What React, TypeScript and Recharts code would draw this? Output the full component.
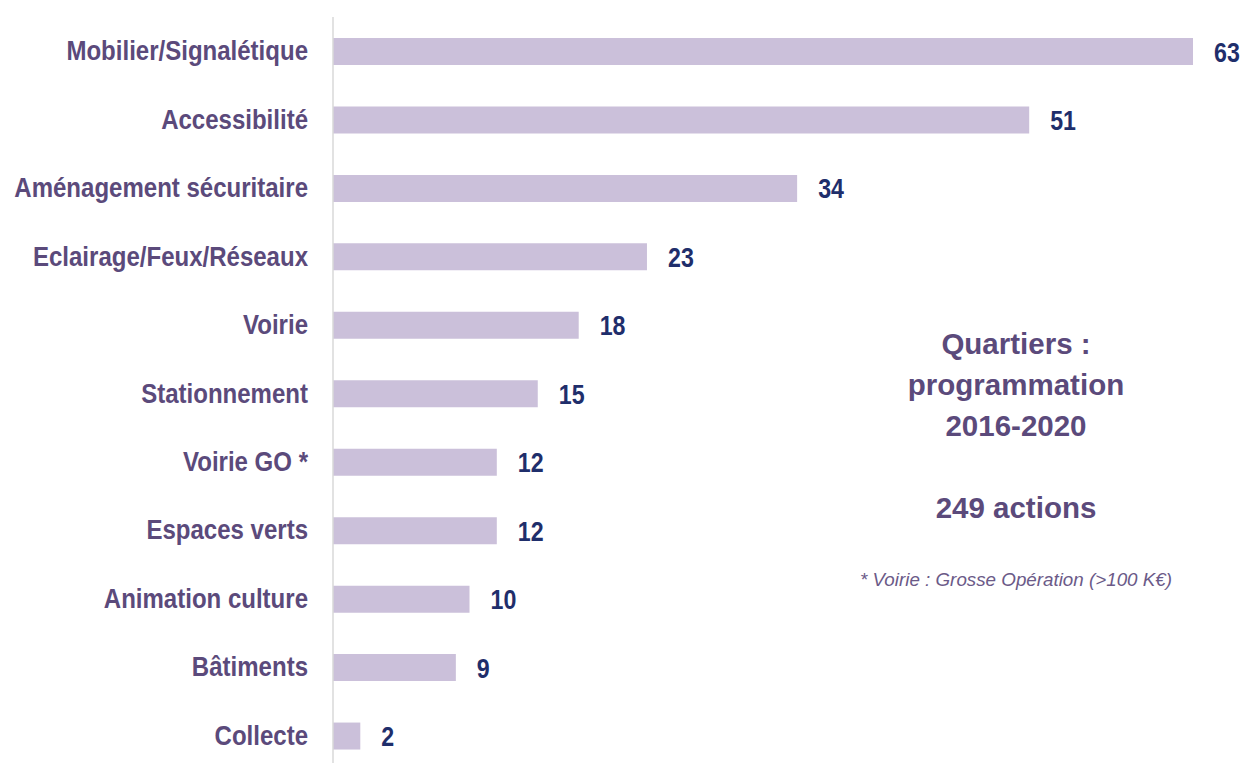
import React from 'react';
import { BarChart, Bar, XAxis, YAxis, LabelList } from 'recharts';

const categories = [
  'Mobilier/Signalétique',
  'Accessibilité',
  'Aménagement sécuritaire',
  'Eclairage/Feux/Réseaux',
  'Voirie',
  'Stationnement',
  'Voirie GO *',
  'Espaces verts',
  'Animation culture',
  'Bâtiments',
  'Collecte',
];
const counts = [63, 51, 34, 23, 18, 15, 12, 12, 10, 9, 2];

const titleLines = ['Quartiers :', 'programmation', '2016-2020'];
const totalLabel = '249 actions';
const footnote = '* Voirie : Grosse Opération (>100 K€)';

const data = categories.map((name, i) => ({ name, count: counts[i] }));

// no Arial Narrow in the sandbox, so squeeze Liberation Sans horizontally
const FONT = '"Liberation Sans", Arial, sans-serif';
const LABEL_COLOR = '#5b4a7b';
const VALUE_COLOR = '#1f2e6b';
const SQUEEZE = 0.89;

const CategoryTick = (props: any) => {
  const { x, y, payload } = props;
  return (
    <text
      transform={`translate(${x},${y}) scale(${SQUEEZE},1)`}
      dy={9}
      textAnchor="end"
      fill={LABEL_COLOR}
      fontFamily={FONT}
      fontWeight="bold"
      fontSize={27}
    >
      {payload.value}
    </text>
  );
};

const ValueLabel = (props: any) => {
  const { x, y, width, height, value } = props;
  const tx = x + width + 21;
  const ty = y + height / 2;
  return (
    <text
      transform={`translate(${tx},${ty}) scale(0.86,1)`}
      dy={10}
      textAnchor="start"
      fill={VALUE_COLOR}
      fontFamily={FONT}
      fontWeight="bold"
      fontSize={27}
    >
      {value}
    </text>
  );
};

export default function App() {
  return (
    <div style={{ position: 'fixed', left: 0, top: 0, width: 1243, height: 763, overflow: 'hidden', background: '#fff' }}>
      <BarChart
        width={1243}
        height={780}
        data={data}
        layout="vertical"
        margin={{ top: 17, right: 50, left: 0, bottom: 10 }}
        barSize={27}
      >
        <XAxis type="number" domain={[0, 63]} hide />
        <YAxis
          type="category"
          dataKey="name"
          width={333}
          axisLine={{ stroke: '#d9d9d9', strokeWidth: 1.5 }}
          tickLine={false}
          tickMargin={19}
          tick={<CategoryTick />}
          interval={0}
        />
        <Bar dataKey="count" fill="#cbc0da" isAnimationActive={false}>
          <LabelList dataKey="count" content={<ValueLabel />} />
        </Bar>
      </BarChart>
      <div
        style={{
          position: 'absolute',
          left: 866,
          top: 323,
          width: 300,
          textAlign: 'center',
          fontFamily: FONT,
          fontWeight: 'bold',
          color: LABEL_COLOR,
          fontSize: 29.5,
          lineHeight: '41px',
        }}
      >
        {titleLines.map((t) => (
          <div key={t}>{t}</div>
        ))}
        <div style={{ marginTop: 41 }}>{totalLabel}</div>
      </div>
      <div
        style={{
          position: 'absolute',
          left: 816,
          top: 569,
          width: 400,
          textAlign: 'center',
          fontFamily: FONT,
          fontStyle: 'italic',
          color: '#6b5a88',
          fontSize: 18.8,
        }}
      >
        {footnote}
      </div>
    </div>
  );
}
